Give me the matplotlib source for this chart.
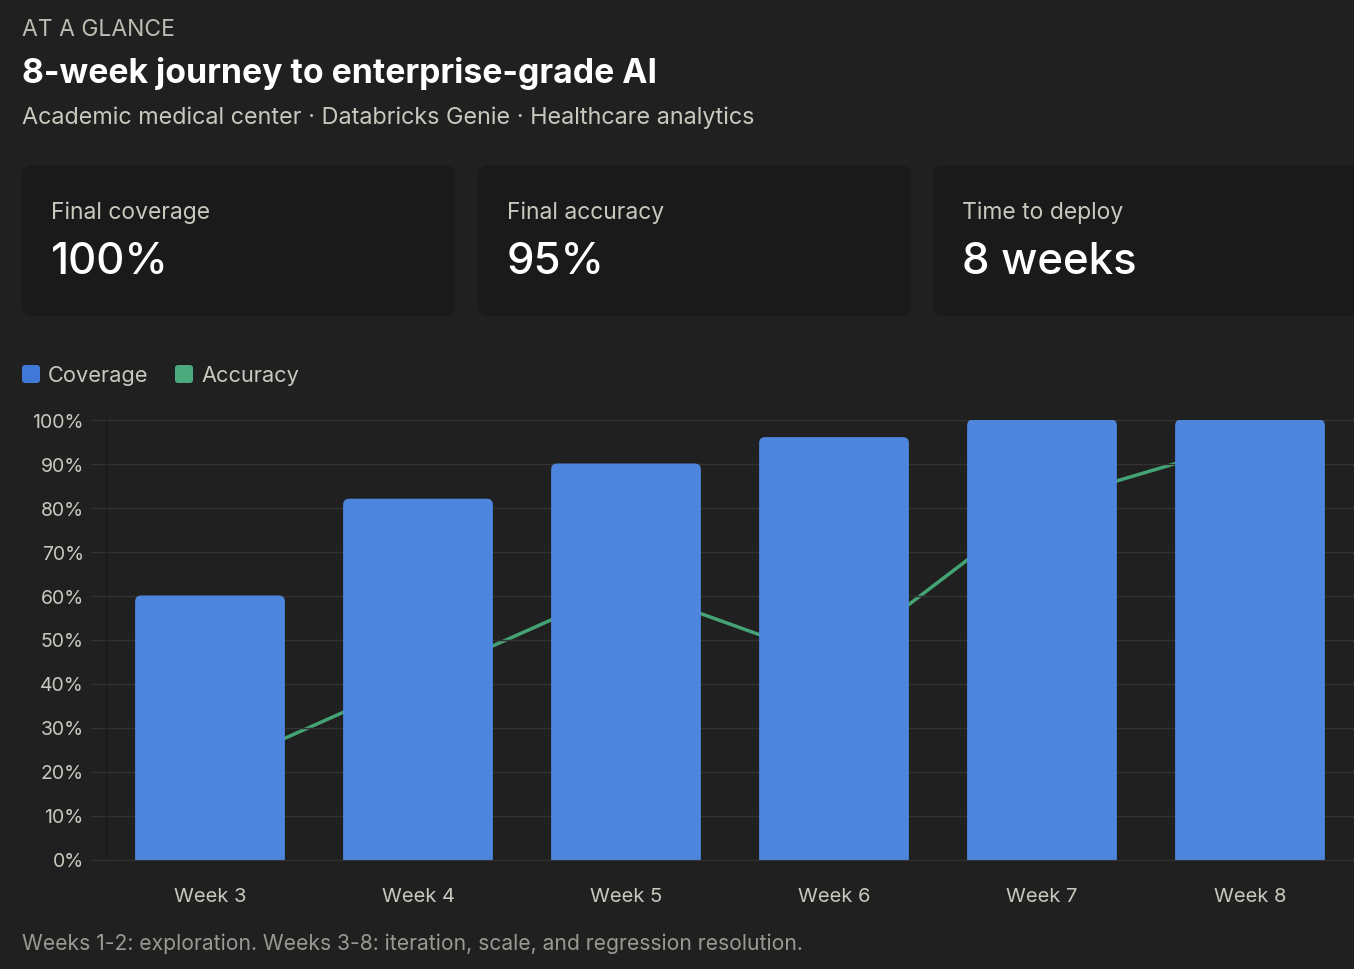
import matplotlib.pyplot as plt
from matplotlib.patches import FancyBboxPatch
from matplotlib.ticker import FuncFormatter

W, H = 1354, 970
BG = "#202020"
CARD = "#1a1a1a"
GRID = "#333333"
BLUE = "#4f86dd"
GREEN = "#44a374"
MUTED = "#c9c8bf"
FONT = "Inter"

weeks = ["Week 3", "Week 4", "Week 5", "Week 6", "Week 7", "Week 8"]
coverage = [60, 82, 90, 96, 100, 100]
accuracy = [20, 41, 62, 45, 81, 95]

card_labels = ["Final coverage", "Final accuracy", "Time to deploy"]
card_values = ["100%", "95%", "8 weeks"]

plt.rcParams['font.family'] = [FONT, 'DejaVu Sans']

fig = plt.figure(figsize=(W / 100, H / 100), dpi=100)
fig.patch.set_facecolor(BG)


def px(x, y):
    # pixel position (top-left origin) -> figure fraction
    return x / W, 1 - y / H


def text(x, y, s, **kw):
    fx, fy = px(x, y + 2)
    fig.text(fx, fy, s, **kw)


# header
text(22, 28, "AT A GLANCE", color="#bdbcb3", fontsize=16.5, va="center")
text(22, 71, "8-week journey to enterprise-grade AI", color="white",
     fontsize=24.3, fontweight="bold", va="center")
text(22, 116, "Academic medical center · Databricks Genie · Healthcare analytics",
     color=MUTED, fontsize=16.85, va="center")

# stat cards
card_x = [22, 478, 933]
for cx, lab, val in zip(card_x, card_labels, card_values):
    box = FancyBboxPatch((cx / 100, (H - 317) / 100), 433 / 100, 151 / 100,
                         boxstyle="round,pad=0,rounding_size=0.12",
                         transform=fig.dpi_scale_trans, facecolor=CARD,
                         edgecolor="none", zorder=0)
    fig.add_artist(box)
    text(cx + 29, 211, lab, color=MUTED, fontsize=16.5, va="center")
    text(cx + 29, 261, val, color="white", fontsize=31.5, fontweight="medium",
         va="center")

# legend
for lx, col, lab in [(22, "#3f78d6", "Coverage"), (175, "#4caa7e", "Accuracy")]:
    sq = FancyBboxPatch((lx / 100, (H - 384) / 100), 18 / 100, 18 / 100,
                        boxstyle="round,pad=0,rounding_size=0.03",
                        transform=fig.dpi_scale_trans, facecolor=col,
                        edgecolor="none")
    fig.add_artist(sq)
    text(lx + 26, 374, lab, color=MUTED, fontsize=15.7, va="center")

# chart
l, b = px(106, 860.5)
_, t = px(106, 420.5)
ax = fig.add_axes([l, b, 1 - l, t - b])
ax.set_facecolor(BG)
x = range(len(weeks))
ax.plot(x, accuracy, color=GREEN, lw=2.5, zorder=1, solid_capstyle="round")
bars = ax.bar(x, coverage, width=0.72, color=BLUE, zorder=2)

# rounded top corners: redraw each bar as a rounded box dipping below 0
for r in bars:
    r.set_visible(False)
    rb = FancyBboxPatch((r.get_x(), -5), r.get_width(), r.get_height() + 5,
                        boxstyle="round,pad=0,rounding_size=0.03",
                        mutation_aspect=45, facecolor=BLUE, edgecolor="none",
                        zorder=2, clip_on=True)
    ax.add_patch(rb)
    rb.set_clip_path(ax.patch)

ax.set_xlim(-0.5, len(weeks) - 0.5)
ax.set_ylim(0, 100)
ax.set_yticks(range(0, 101, 10))
ax.yaxis.set_major_formatter(FuncFormatter(lambda v, p: f"{int(v)}%"))
ax.set_xticks(list(x))
ax.set_xticklabels(weeks)
ax.grid(axis="y", color=GRID, lw=1, zorder=0)
ax.tick_params(axis="y", length=11, width=1, color=GRID, pad=5,
               labelsize=14, labelcolor=MUTED)
ax.tick_params(axis="x", length=0, pad=20, labelsize=14.5, labelcolor=MUTED)
for s in ["top", "right"]:
    ax.spines[s].set_visible(False)
ax.spines["left"].set_color("#191919")
ax.spines["bottom"].set_color(GRID)
ax.spines["bottom"].set_zorder(3)

text(22, 942, "Weeks 1-2: exploration. Weeks 3-8: iteration, scale, and regression resolution.",
     color="#9a9991", fontsize=15.2, va="center")

fig.savefig("out.png", dpi=100, facecolor=BG)
